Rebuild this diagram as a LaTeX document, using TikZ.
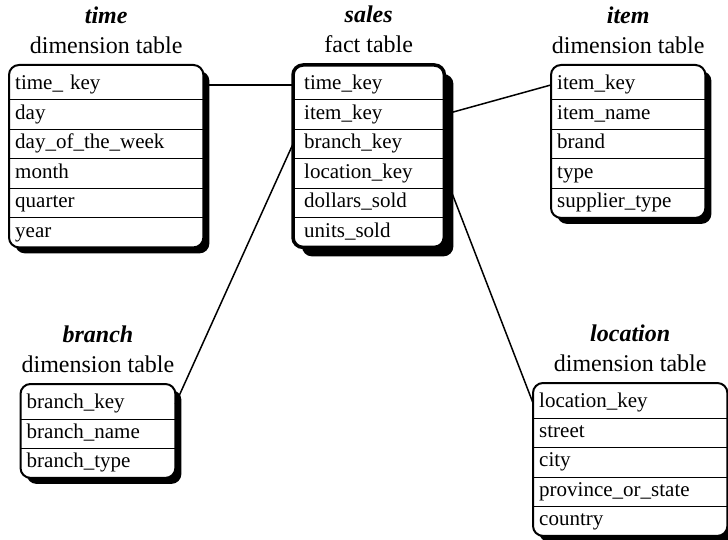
\documentclass[tikz,border=0pt]{standalone}
\usepackage{fontspec}
\setmainfont{Liberation Serif}
\usetikzlibrary{positioning,fit,shadows,backgrounds}

\begin{document}
\begin{tikzpicture}[x=1pt,y=-1pt,
  field/.style={anchor=north west,minimum height=29.5pt,inner xsep=6pt,inner ysep=0pt,text height=15pt,text depth=5pt,align=left,font=\fontsize{21}{25}\selectfont},
  dimtable/.style={draw,line width=2pt,rounded corners=10pt,fill=white,inner sep=0pt,general shadow={fill=black,shadow xshift=6pt,shadow yshift=-6pt}},
  facttable/.style={draw,line width=3.5pt,rounded corners=10pt,fill=white,inner sep=0pt,general shadow={fill=black,shadow xshift=9pt,shadow yshift=-9pt}},
  tabletitle/.style={align=center,inner sep=0pt,font=\fontsize{24}{30}\selectfont},
  rowsep/.style={line width=0.8pt},
  link/.style={line width=1.5pt}]
\useasboundingbox (0,0) rectangle (728,540);
% time dimension
\coordinate (time-top) at (9,65);
\foreach \f [count=\i] in {time\_ key,day,day\_of\_the\_week,month,quarter,year}
  \node[field,text width=182pt] (time-\i) at (9,{70+29.5*(\i-1)}) {\f};
% sales fact table
\coordinate (sales-top) at (293,65);
\foreach \f [count=\i] in {time\_key,item\_key,branch\_key,location\_key,dollars\_sold,units\_sold}
  \node[field,inner xsep=11pt,text width=129pt] (sales-\i) at (293,{70+29.5*(\i-1)}) {\f};
% item dimension
\coordinate (item-top) at (551,65);
\foreach \f [count=\i] in {item\_key,item\_name,brand,type,supplier\_type}
  \node[field,text width=142pt] (item-\i) at (551,{70+29.5*(\i-1)}) {\f};
% branch dimension
\coordinate (branch-top) at (20.5,384);
\foreach \f [count=\i] in {branch\_key,branch\_name,branch\_type}
  \node[field,text width=142.5pt] (branch-\i) at (20.5,{389+29.5*(\i-1)}) {\f};
% location dimension
\coordinate (location-top) at (533,383);
\foreach \f [count=\i] in {location\_key,street,city,province\_or\_state,country}
  \node[field,text width=182pt] (location-\i) at (533,{388+29.5*(\i-1)}) {\f};

\begin{scope}[on background layer]
\node[dimtable,fit=(time-top)(time-6)] (time) {};
\node[facttable,fit=(sales-top)(sales-6)] (sales) {};
\node[dimtable,fit=(item-top)(item-5)] (item) {};
\node[dimtable,fit=(branch-top)(branch-3)] (branch) {};
\node[dimtable,fit=(location-top)(location-5)] (location) {};
\end{scope}

\foreach \i in {1,...,5} \draw[rowsep] (time-\i.south west) -- (time-\i.south east);
\foreach \i in {1,2,3,5} \draw[rowsep] (sales-\i.south west) -- (sales-\i.south east);
\draw[rowsep,line width=1.6pt] (sales-4.south west) -- (sales-4.south east);
\foreach \i in {1,...,4} \draw[rowsep] (item-\i.south west) -- (item-\i.south east);
\foreach \i in {1,2} \draw[rowsep] (branch-\i.south west) -- (branch-\i.south east);
\foreach \i in {1,...,4} \draw[rowsep] (location-\i.south west) -- (location-\i.south east);

\node[tabletitle,above=10pt of time] (time-title) {\textbf{\textit{time}}\\dimension table};
\node[tabletitle,above=10pt of sales] (sales-title) {\textbf{\textit{sales}}\\fact table};
\node[tabletitle,above=10pt of item] (item-title) {\textbf{\textit{item}}\\dimension table};
\node[tabletitle,above=10pt of branch] (branch-title) {\textbf{\textit{branch}}\\dimension table};
\node[tabletitle,above=10pt of location] (location-title) {\textbf{\textit{location}}\\dimension table};

\draw[link] (time-1.east) -- (sales-1.west);
\draw[link] (sales-2.east) -- (item-1.west);
\draw[link] (sales-3.west) -- (branch-1.east);
\draw[link] (sales-4.east) -- (location-1.west);
\end{tikzpicture}
\end{document}
